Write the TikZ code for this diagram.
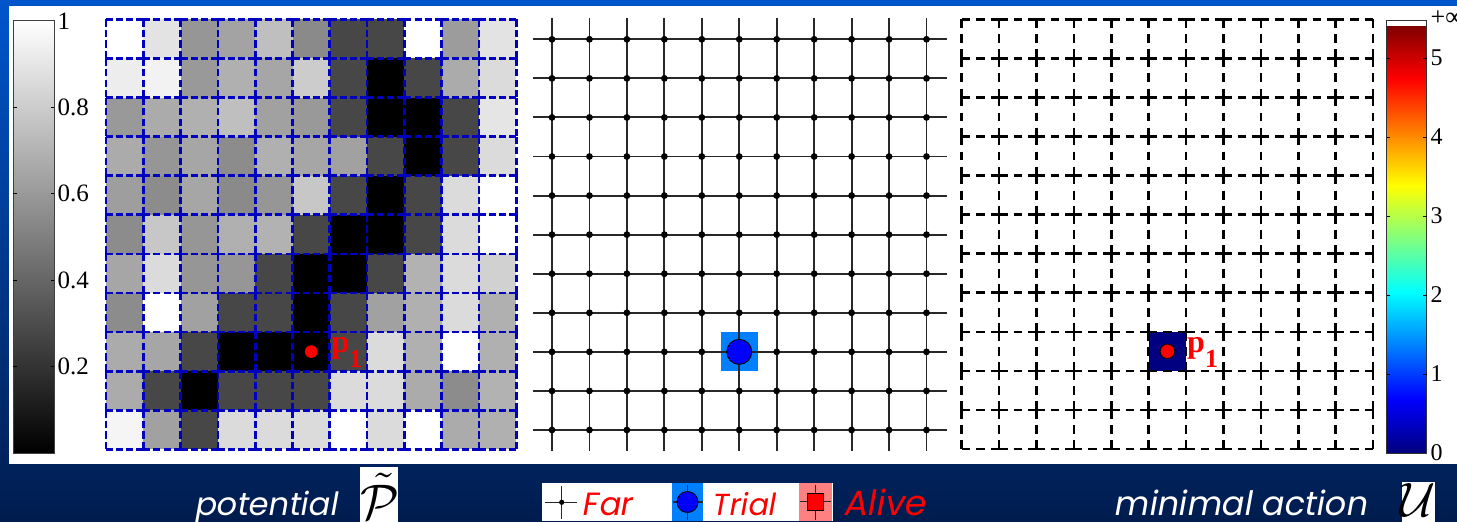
\documentclass[tikz,border=0pt]{standalone}
\usepackage{fontspec}
\usepackage{graphicx}
\setmainfont{Liberation Serif}
\newfontfamily\gothic[FakeSlant=0.18]{Poppins}
\definecolor{bgtop}{RGB}{0,85,204}
\definecolor{bgbot}{RGB}{0,28,78}
\definecolor{gridblue}{RGB}{0,0,190}
\definecolor{trialbg}{RGB}{0,128,255}
\definecolor{alivebg}{RGB}{255,128,128}
\definecolor{navyc}{RGB}{0,0,128}
\definecolor{linegray}{RGB}{40,40,40}
\tikzset{
  bluedashh/.style={gridblue, line width=2.7pt, dash pattern=on 7pt off 3.1pt},
  bluedashv/.style={gridblue, line width=2.7pt, dash pattern=on 7.3pt off 3.25pt},
  blackdashh/.style={black, line width=2.5pt, dash pattern=on 8.5pt off 5.95pt},
  blackdashv/.style={black, line width=2.5pt, dash pattern=on 8.9pt off 6.18pt},
  midline/.style={linegray, line width=1.9pt},
  cblabel/.style={anchor=west, inner sep=0pt, font=\fontsize{25}{25}\selectfont},
  cbtick/.style={black, line width=0.8pt},
  plabel/.style={anchor=base west, inner sep=0pt, text=red, font=\fontsize{32}{32}\selectfont\bfseries},
  legtext/.style={anchor=base west, inner sep=0pt, text=red},
  captext/.style={anchor=base west, inner sep=0pt, text=white},
}
\begin{document}
\begin{tikzpicture}[x=1pt,y=-1pt]
\useasboundingbox (0,0) rectangle (1457,522);
% background
\shade[top color=bgtop, bottom color=bgbot] (0,0) rectangle (1457,522);
\fill[white] (9,6) rectangle (1457,464);

% ---------- gray colorbar ----------
\shade[bottom color=black, top color=white] (13.3,20.7) rectangle (54.3,453);
\draw[line width=0.8pt, black!75] (13.3,20.7) rectangle (54.3,453);
\foreach \v in {0.2,0.4,0.6,0.8} {
  \pgfmathsetmacro\yy{453-\v*432.3}
  \draw[cbtick] (13.3,\yy) -- (16.8,\yy);
  \draw[cbtick] (54.3,\yy) -- (50.8,\yy);
  \node[cblabel] (gl\v) at (57.3,\yy) {\v};
}
\node[cblabel] (gl1) at (57.3,21.5) {1};

% ---------- potential grid ----------
\foreach \rowvals [count=\r from 0] in {
 {1,0.89,0.59,0.64,0.75,0.54,0.28,0.28,1,0.61,0.89},
 {0.93,0.95,0.60,0.69,0.65,0.80,0.28,0,0.28,0.67,0.86},
 {0.60,0.67,0.69,0.75,0.63,0.60,0.28,0,0,0.28,0.90},
 {0.67,0.59,0.65,0.55,0.69,0.65,0.63,0.28,0,0.28,0.86},
 {0.62,0.55,0.65,0.54,0.59,0.78,0.28,0,0.28,0.86,1},
 {0.55,0.78,0.59,0.69,0.70,0.28,0,0,0.28,0.86,1},
 {0.65,0.86,0.59,0.59,0.28,0,0,0.28,0.70,0.86,0.82},
 {0.55,1,0.63,0.28,0.28,0,0.28,0.63,0.69,0.86,0.69},
 {0.67,0.65,0.28,0,0,0,0.28,0.86,0.69,1,0.69},
 {0.67,0.28,0,0.28,0.28,0.28,0.86,0.86,0.67,0.55,0.70},
 {0.96,0.63,0.28,0.86,0.86,0.86,1,0.86,1,0.67,0.69}} {
  \foreach \v [count=\c from 0] in \rowvals {
    \definecolor{cellc}{gray}{\v}
    \fill[cellc] ({106+\c*37.3},{19.3+\r*39.1}) rectangle ++(37.3,39.1);
  }
}
\foreach \k in {0,...,11} {
  \foreach \c in {0,...,10} {
    \draw[bluedashh] ({106+\c*37.3},{19.3+\k*39.1}) -- ++(37.3,0);
    \draw[bluedashv] ({106+\k*37.3},{19.3+\c*39.1}) -- ++(0,39.1);
  }
}
\fill[red] (311.2,351.6) circle (6.3pt);
\node[plabel] (p1a) at (331.5,352) {p\raisebox{-15pt}{\fontsize{26}{26}\selectfont 1}};

% ---------- Far / Trial grid ----------
\fill[trialbg] (720.5,332.4) rectangle (758.1,371.4);
\foreach \i in {0,...,10} {
  \draw[midline] (533.3,{39.3+\i*39.07}) -- (946.7,{39.3+\i*39.07});
  \draw[midline] ({552+\i*37.45},18.3) -- ({552+\i*37.45},450.7);
}
\foreach \i in {0,...,10} {
  \foreach \j in {0,...,10} {
    \fill[black] ({552+\j*37.45},{39.3+\i*39.07}) circle (3.4pt);
  }
}
\draw[fill=blue, line width=0.9pt] (739.25,351.86) circle (12.5pt);

% ---------- minimal action grid ----------
\fill[navyc] (1148.7,331.8) rectangle ++(37.4,39.06);
\foreach \k in {0,...,11} {
  \foreach \c in {0,...,10} {
    \draw[blackdashh] ({961.7+\c*37.4},{19.3+\k*39.06}) -- ++(37.4,0);
    \draw[blackdashv] ({961.7+\k*37.4},{19.3+\c*39.06}) -- ++(0,39.06);
  }
}
\draw[fill=red, line width=0.9pt] (1167.4,351.3) circle (7.3pt);
\node[plabel] (p1b) at (1187,352) {p\raisebox{-15pt}{\fontsize{26}{26}\selectfont 1}};

% ---------- jet colorbar ----------
\foreach \k in {0,...,426} {
  \pgfmathsetmacro\t{(\k+0.5)/427}
  \pgfmathsetmacro\rr{max(0,min(1,1.5-abs(4*\t-3)))}
  \pgfmathsetmacro\gg{max(0,min(1,1.5-abs(4*\t-2)))}
  \pgfmathsetmacro\bb{max(0,min(1,1.5-abs(4*\t-1)))}
  \definecolor{jc}{rgb}{\rr,\gg,\bb}
  \fill[jc] (1386.7,{453-\k+0.3}) rectangle (1426.7,{453-\k-1.3});
}
\fill[white] (1386.7,20) rectangle (1426.7,26);
\draw[line width=0.8pt, black!80] (1386.7,20) rectangle (1426.7,453);
\foreach \v in {1,...,5} {
  \pgfmathsetmacro\yy{453-\v*79}
  \draw[cbtick] (1386.7,\yy) -- (1390.2,\yy);
  \draw[cbtick] (1426.7,\yy) -- (1423.2,\yy);
}
\foreach \v in {0,...,5} {
  \pgfmathsetmacro\yy{453-\v*79}
  \node[cblabel, font=\fontsize{24}{24}\selectfont] (jl\v) at (1430.5,\yy) {\v};
}
\node[cblabel, font=\fontsize{26}{26}\selectfont] (jlinf) at (1430.5,18) {+∞};

% ---------- captions ----------
\node[captext] (pot) at (194,515) {\resizebox{143pt}{!}{\gothic potential}};
\fill[white] (360,467) rectangle (398,522);
\node[inner sep=0pt] (ptil) at (379.5,496.5) {\resizebox{!}{46pt}{$\tilde{\mathcal{P}}$}};
\node[captext] (minact) at (1113.3,515) {\resizebox{253.4pt}{!}{\gothic minimal action}};
\fill[white] (1401.7,481.7) rectangle (1435,522);
\node[inner sep=0pt] (ucal) at (1418,500) {\resizebox{!}{33pt}{$\mathcal{U}$}};

% ---------- legend ----------
\fill[white] (542,483.3) rectangle (833.3,520.7);
\draw[linegray, line width=1.3pt] (545,502.3) -- (576.7,502.3);
\draw[linegray, line width=1.3pt] (561.7,486) -- (561.7,519);
\fill[black] (561.7,502.3) circle (2.6pt);
\node[legtext] (far) at (581.7,515) {\resizebox{50pt}{!}{\gothic Far}};
\fill[trialbg] (671.7,483.3) rectangle (703.3,520.7);
\draw[linegray, line width=1.3pt] (672.5,502) -- (702.5,502);
\draw[linegray, line width=1.3pt] (687.5,484.5) -- (687.5,519.5);
\draw[fill=blue, line width=0.9pt] (687.5,502) circle (10.5pt);
\node[legtext] (trial) at (711.7,515) {\resizebox{63.3pt}{!}{\gothic Trial}};
\fill[alivebg] (799.3,483.3) rectangle (831.7,520.7);
\draw[linegray, line width=1.3pt] (800,501.8) -- (831,501.8);
\draw[linegray, line width=1.3pt] (815.5,484.5) -- (815.5,519.5);
\draw[fill=red, line width=0.9pt] (807.5,493) rectangle (823.5,510.6);
\node[legtext] (alive) at (843.3,515) {\resizebox{81.7pt}{!}{\gothic Alive}};
\end{tikzpicture}
\end{document}
